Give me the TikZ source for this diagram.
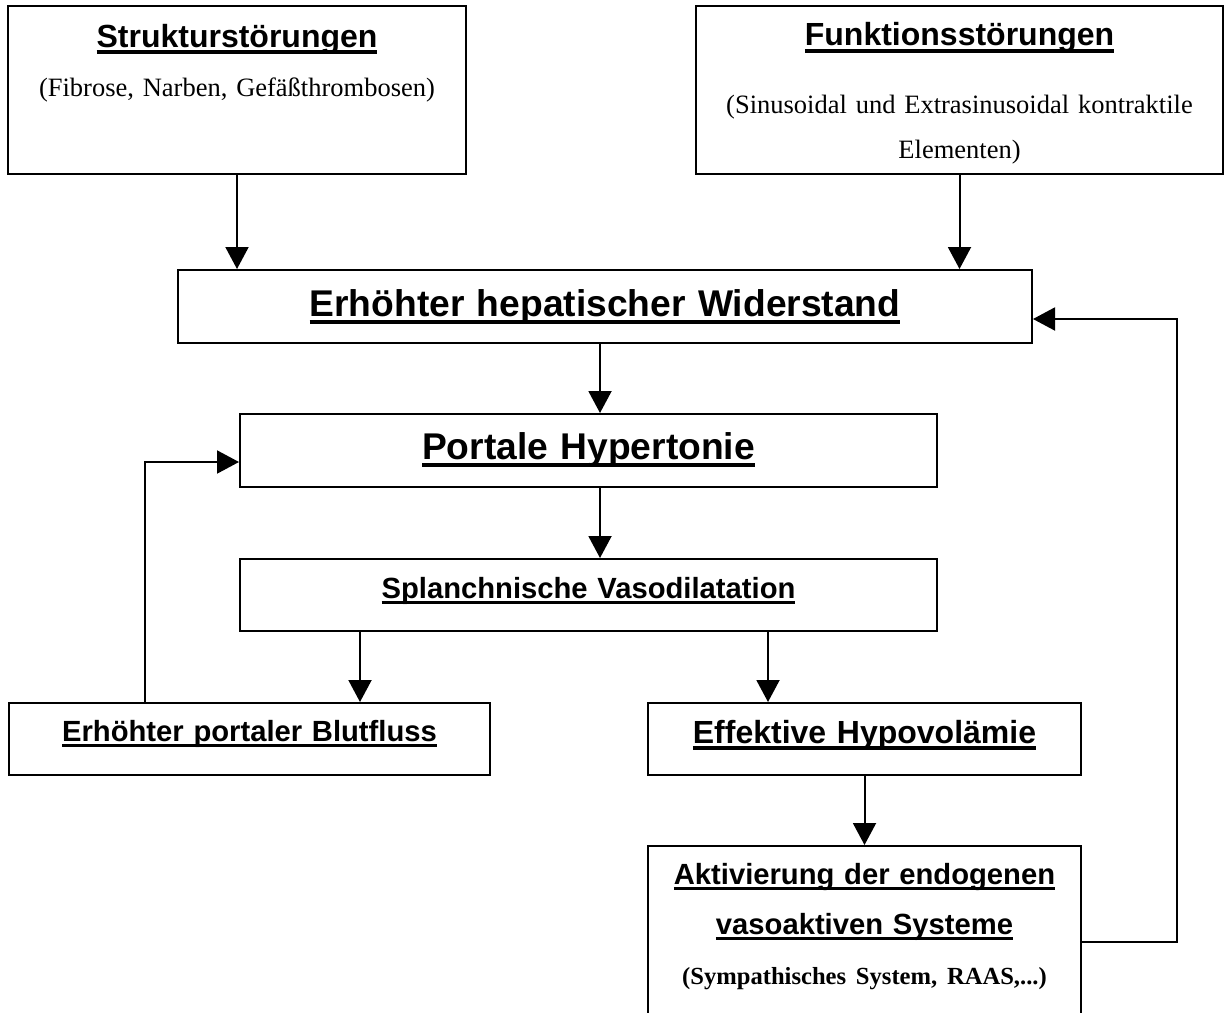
\documentclass[tikz,border=0pt]{standalone}
\usepackage{fontspec}
\setmainfont{Liberation Serif}
\setsansfont{Liberation Sans}
\usetikzlibrary{arrows.meta}
\newcommand{\unterstr}[1]{\leavevmode\setbox0\hbox{#1}\rlap{\rule[-0.21em]{\wd0}{0.11em}}\box0}

\begin{document}
\begin{tikzpicture}[x=0.5pt, y=-0.5pt,
	kasten/.style={draw, line width=1pt, inner sep=0pt, anchor=north, align=center},
	gross/.style={font=\sffamily\bfseries\fontsize{18.6}{22}\selectfont},
	mittel/.style={font=\sffamily\bfseries\fontsize{16}{19}\selectfont},
	klein/.style={font=\sffamily\bfseries\fontsize{14.6}{25}\selectfont},
	pfeil/.style={-{Triangle[length=11pt, width=11.5pt]}, line width=1pt}]
	\useasboundingbox (0, 0) rectangle (1225, 1012);
	\clip (0, 0) rectangle (1225, 1012);
	\node[kasten, text width=229pt, text height=20.5pt, text depth=63.5pt, font=\rmfamily\fontsize{13.25}{22.5}\selectfont] (struk) at (237, 5) {{\sffamily\bfseries\fontsize{16}{19}\selectfont\unterstr{Strukturstörungen}}\\[2pt](Fibrose, Narben, Gefäßthrombosen)};
	\node[kasten, text width=263.5pt, text height=20pt, text depth=64pt, font=\rmfamily\fontsize{13.25}{22.5}\selectfont] (funk) at (959.5, 5) {{\sffamily\bfseries\fontsize{16}{19}\selectfont\unterstr{Funktionsstörungen}}\\[11pt](Sinusoidal und Extrasinusoidal kontraktile\\Elementen)};
	\node[kasten, gross, text width=427pt, text height=23pt, text depth=13.5pt] (wid) at (605, 269) {\unterstr{Erhöhter hepatischer Widerstand}};
	\node[kasten, gross, text width=348.5pt, text height=22.5pt, text depth=14pt] (ph) at (588.5, 413) {\unterstr{Portale Hypertonie}};
	\node[kasten, klein, text width=348.5pt, text height=19.5pt, text depth=16.5pt] (sv) at (588.5, 558) {\unterstr{Splanchnische Vasodilatation}};
	\node[kasten, klein, text width=240.5pt, text height=19pt, text depth=17pt] (pbf) at (249.5, 702) {\unterstr{Erhöhter portaler Blutfluss}};
	\node[kasten, mittel, text width=216.5pt, text height=20pt, text depth=16pt] (hv) at (864.5, 702) {\unterstr{Effektive Hypovolämie}};
	\node[kasten, klein, text width=216.5pt, text height=19pt, text depth=90pt] (akt) at (864.5, 845) {\unterstr{Aktivierung der endogenen}\\\unterstr{vasoaktiven Systeme}\\{\rmfamily\fontsize{12.3}{25}\selectfont(Sympathisches System, RAAS,...)}};
	\coordinate (m1) at (600, 0);
	\coordinate (m2) at (360, 0);
	\coordinate (m3) at (768, 0);
	\coordinate (k1) at (145, 462);
	\coordinate (k2) at (1177, 942);
	\coordinate (k3) at (1177, 319);
	\draw[pfeil] (struk.south) -- (struk.south |- wid.north);
	\draw[pfeil] (funk.south) -- (funk.south |- wid.north);
	\draw[pfeil] (wid.south -| m1) -- (ph.north -| m1);
	\draw[pfeil] (ph.south -| m1) -- (sv.north -| m1);
	\draw[pfeil] (sv.south -| m2) -- (pbf.north -| m2);
	\draw[pfeil] (sv.south -| m3) -- (hv.north -| m3);
	\draw[pfeil] (hv.south) -- (akt.north);
	\draw[pfeil] (pbf.north -| k1) -- (k1) -- (k1 -| ph.west);
	\draw[pfeil] (akt.east |- k2) -- (k2) -- (k3) -- (k3 -| wid.east);
\end{tikzpicture}
\end{document}
